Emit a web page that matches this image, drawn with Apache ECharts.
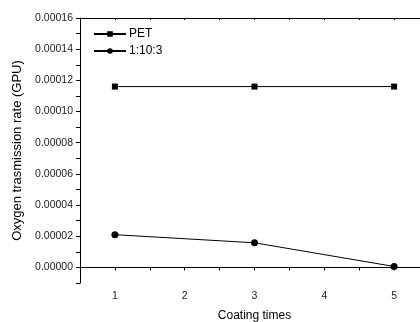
<!DOCTYPE html>
<html>
<head>
<meta charset="utf-8">
<script src="https://cdn.jsdelivr.net/npm/echarts@6/dist/echarts.min.js"></script>
<style>
html,body{margin:0;padding:0;background:#fff;}
#container{width:420px;height:322px;}
</style>
</head>
<body>
<div id="container"></div>
<script>
var coatingTimes = [1, 3, 5];
var petValues = [0.000116, 0.000116, 0.000116];
var mixValues = [0.000021, 0.0000158, 0.0000006];
var seriesNames = ['PET', '1:10:3'];

var dom = document.querySelector("#container");
var myChart = echarts.init(dom);

var toPairs = function(xs, ys){
    return xs.map(function(x, i){ return [x, ys[i]]; });
};

var font = 'Liberation Sans, Arial, sans-serif';

var option = {
    animation: false,
    legend: {
        left: 88,
        top: 23,
        orient: 'vertical',
        itemWidth: 32,
        itemHeight: 7,
        itemGap: 5,
        textStyle: { fontFamily: font, fontSize: 12, color: '#000', padding: [0, 0, 0, -2] },
        data: seriesNames
    },
    grid: { left: 80, top: 18, width: 349, height: 265, outerBoundsMode: 'none', containLabel: false },
    xAxis: [{
        type: 'value',
        min: 0.5,
        max: 5.5,
        interval: 0.5,
        name: 'Coating times',
        nameLocation: 'middle',
        nameGap: 27,
        nameTextStyle: { fontFamily: font, fontSize: 12, color: '#000' },
        axisLine: { lineStyle: { color: '#000', width: 1 } },
        axisTick: { length: 3, lineStyle: { color: '#000' } },
        splitLine: { show: false },
        axisLabel: {
            fontFamily: font, fontSize: 10.5, color: '#222', margin: 8,
            formatter: function(v){ return Math.abs(v - Math.round(v)) < 1e-6 ? String(Math.round(v)) : ''; }
        }
    }, {
        type: 'value',
        position: 'top',
        min: 0.5,
        max: 5.5,
        interval: 0.5,
        axisLine: { show: true, lineStyle: { color: '#000', width: 1 } },
        axisTick: { inside: true, length: 2, lineStyle: { color: '#000' } },
        axisLabel: { show: false },
        splitLine: { show: false }
    }],
    yAxis: {
        type: 'value',
        min: -0.00001,
        max: 0.00016,
        interval: 0.00001,
        name: 'Oxygen trasmission rate (GPU)',
        nameLocation: 'middle',
        nameGap: 53,
        nameTextStyle: { fontFamily: font, fontSize: 13, color: '#000' },
        axisLine: { show: true, lineStyle: { color: '#000', width: 1 } },
        axisTick: { length: 4, lineStyle: { color: '#000' } },
        splitLine: { show: false },
        axisLabel: {
            fontFamily: font, fontSize: 10.5, color: '#222', margin: 7,
            formatter: function(v){
                var k = Math.round(v * 1e5);
                return (k >= 0 && k % 2 === 0) ? (k / 1e5).toFixed(5) : '';
            }
        }
    },
    series: [{
        name: seriesNames[0],
        type: 'line',
        data: toPairs(coatingTimes, petValues),
        symbol: 'rect',
        symbolSize: 6,
        itemStyle: { color: '#000' },
        lineStyle: { color: '#000', width: 1 }
    }, {
        name: seriesNames[1],
        type: 'line',
        data: toPairs(coatingTimes, mixValues),
        symbol: 'circle',
        symbolSize: 7,
        itemStyle: { color: '#000' },
        lineStyle: { color: '#000', width: 1 }
    }]
};

myChart.setOption(option);
</script>
</body>
</html>
